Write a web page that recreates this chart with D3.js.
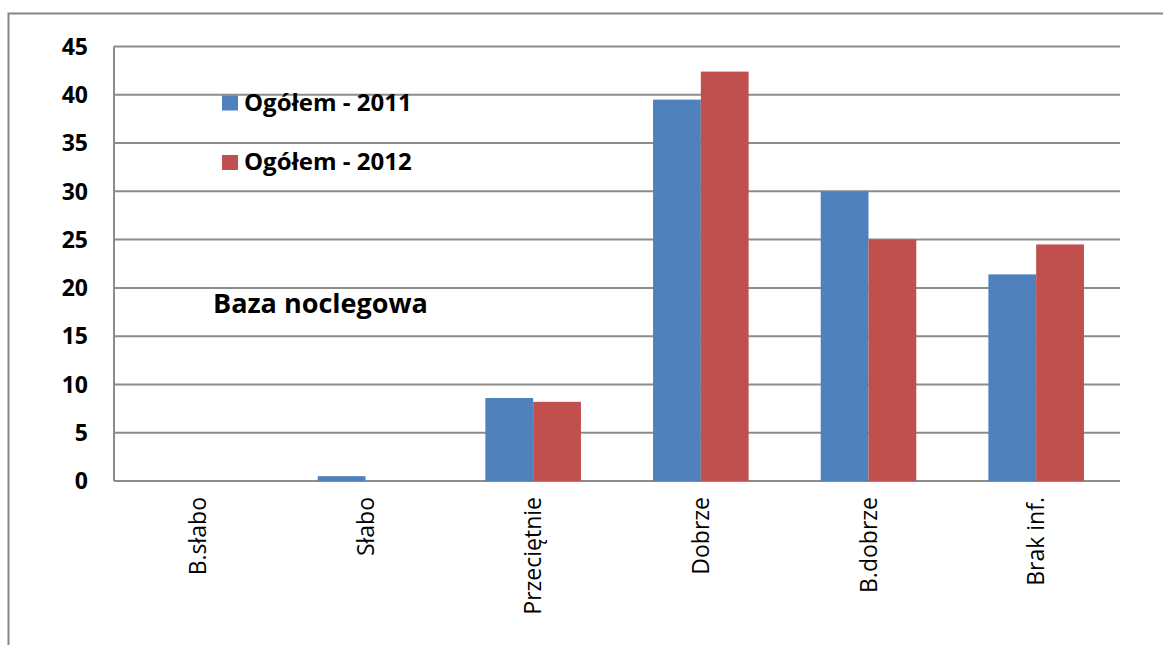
<!DOCTYPE html>
<html>
<head>
<meta charset="utf-8">
<script src="https://cdn.jsdelivr.net/npm/d3@7"></script>
<style>
  body { margin: 0; background: #fff; }
  text { font-family: "Open Sans", sans-serif; fill: #000; }
</style>
</head>
<body>
<div id="chart"></div>
<script>
// categories and values
var categories = ["B.słabo", "Słabo", "Przeciętnie", "Dobrze", "B.dobrze", "Brak inf."];
var seriesNames = ["Ogółem - 2011", "Ogółem - 2012"];
var values2011 = [0, 0.5, 8.6, 39.5, 30, 21.4];
var values2012 = [0, 0, 8.2, 42.4, 25, 24.5];
var yTicks = [0, 5, 10, 15, 20, 25, 30, 35, 40, 45];
var colors = ["#4f81bd", "#c0504d"];

var width = 1163, height = 645;
var margin = {left: 114, right: 43, top: 46.5, bottom: 164};

var svg = d3.select("#chart").append("svg")
    .attr("width", width)
    .attr("height", height);

// outer chart frame
svg.append("rect")
    .attr("x", 8.5).attr("y", 13.5)
    .attr("width", width).attr("height", height)
    .attr("fill", "none")
    .attr("stroke", "#868686")
    .attr("stroke-width", 2);

var x0 = d3.scaleBand()
    .domain(categories)
    .range([margin.left, width - margin.right])
    .paddingInner(0.43)
    .paddingOuter(0.215);

var x1 = d3.scaleBand()
    .domain([0, 1])
    .range([0, x0.bandwidth()]);

var y = d3.scaleLinear()
    .domain([0, 45])
    .range([height - margin.bottom, margin.top]);

// gridlines
svg.append("g")
    .selectAll("line")
    .data(yTicks)
    .enter()
    .append("line")
    .attr("x1", margin.left)
    .attr("x2", width - margin.right)
    .attr("y1", function(d){ return y(d); })
    .attr("y2", function(d){ return y(d); })
    .attr("stroke", "#8c8c8c")
    .attr("stroke-width", 2);

// y axis line
svg.append("line")
    .attr("x1", margin.left).attr("x2", margin.left)
    .attr("y1", y(45)).attr("y2", y(0))
    .attr("stroke", "#8c8c8c")
    .attr("stroke-width", 2);

// y tick labels
svg.append("g")
    .selectAll("text")
    .data(yTicks)
    .enter()
    .append("text")
    .attr("x", 88)
    .attr("y", function(d){ return y(d); })
    .attr("dy", "0.36em")
    .attr("text-anchor", "end")
    .style("font-size", "23px")
    .style("font-weight", "bold")
    .text(function(d){ return d; });

// bars
var groups = svg.selectAll(".cat")
    .data(categories)
    .enter()
    .append("g")
    .attr("class", "cat")
    .attr("transform", function(d){ return "translate(" + x0(d) + ",0)"; });

groups.selectAll("rect")
    .data(function(d, i){ return [values2011[i], values2012[i]]; })
    .enter()
    .append("rect")
    .attr("x", function(d, j){ return x1(j); })
    .attr("width", x1.bandwidth())
    .attr("y", function(d){ return y(d); })
    .attr("height", function(d){ return y(0) - y(d); })
    .attr("fill", function(d, j){ return colors[j]; });

// x labels, rotated
svg.append("g")
    .selectAll("text")
    .data(categories)
    .enter()
    .append("text")
    .attr("transform", function(d){
        return "translate(" + (x0(d) + x0.bandwidth() / 2 + 8) + "," + 497 + ") rotate(-90)";
    })
    .attr("text-anchor", "end")
    .style("font-size", "23px")
    .text(function(d){ return d; });

// legend
var legend = svg.append("g");
seriesNames.forEach(function(name, i){
    var ly = [110.5, 170][i];
    legend.append("rect")
        .attr("x", 222).attr("y", ly - 15)
        .attr("width", 16).attr("height", 15)
        .attr("fill", colors[i]);
    legend.append("text")
        .attr("x", 244).attr("y", ly)
        .style("font-size", "24px")
        .style("font-weight", "bold")
        .text(name);
});

// chart title inside plot
svg.append("text")
    .attr("x", 213).attr("y", 313)
    .style("font-size", "27px")
    .style("font-weight", "bold")
    .text("Baza noclegowa");
</script>
</body>
</html>
